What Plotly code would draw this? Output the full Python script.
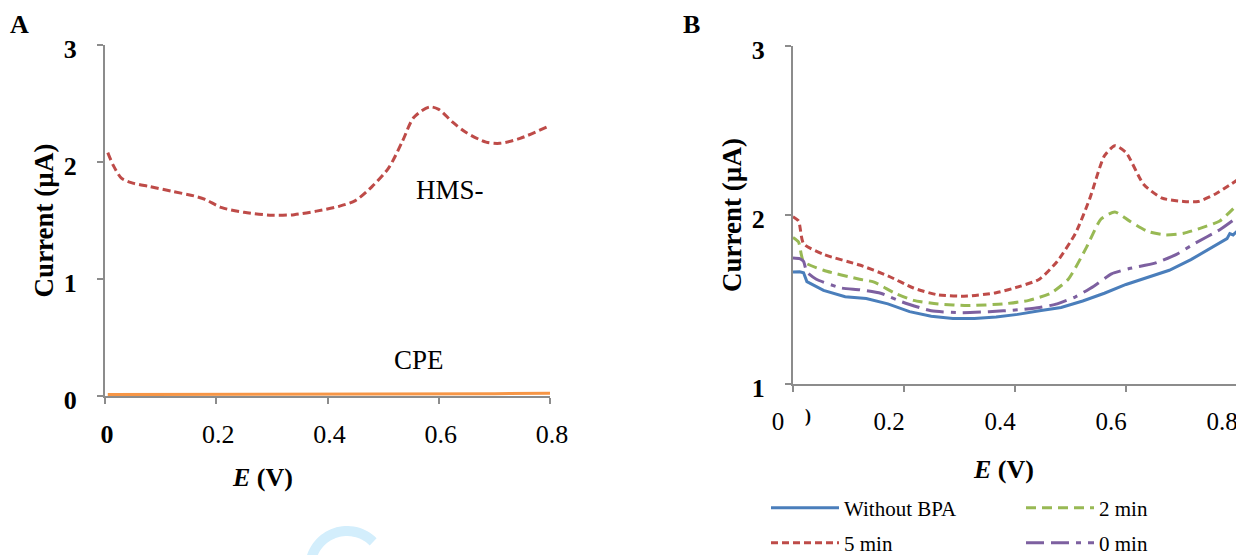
import numpy as np
import plotly.graph_objects as go

PAGE_W, PAGE_H = 1244, 555
OFF = 8  # default page body margin
FW, FH = PAGE_W - OFF, PAGE_H - OFF
FONT = "Liberation Serif"

# ---------------- Panel A data ----------------
a_hms_E = [0.005, 0.015, 0.03, 0.05, 0.08, 0.12, 0.16, 0.18, 0.21, 0.25, 0.30, 0.34, 0.38,
           0.42, 0.45, 0.48, 0.51, 0.535, 0.555, 0.583, 0.60, 0.625, 0.65, 0.685, 0.71, 0.745, 0.795]
a_hms_I = [2.08, 1.97, 1.86, 1.82, 1.79, 1.75, 1.71, 1.68, 1.61, 1.57, 1.545, 1.55, 1.58,
           1.62, 1.67, 1.79, 1.95, 2.18, 2.38, 2.47, 2.45, 2.34, 2.25, 2.17, 2.16, 2.20, 2.30]
a_cpe_E = [0.005, 0.1, 0.2, 0.3, 0.4, 0.5, 0.6, 0.7, 0.8]
a_cpe_I = [0.012, 0.013, 0.014, 0.012, 0.013, 0.014, 0.016, 0.020, 0.024]

# ---------------- Panel B data ----------------
b_red_E = [0.0, 0.01, 0.019, 0.055, 0.12, 0.171, 0.217, 0.262, 0.314, 0.366, 0.41, 0.444, 0.476,
           0.509, 0.535, 0.561, 0.58, 0.60, 0.632, 0.665, 0.704, 0.73, 0.762, 0.8]
b_red_I = [1.99, 1.965, 1.83, 1.767, 1.704, 1.64, 1.568, 1.527, 1.52, 1.54, 1.579, 1.62, 1.725,
           1.892, 2.10, 2.35, 2.41, 2.37, 2.18, 2.10, 2.08, 2.08, 2.126, 2.206]
b_green_E = [0.0, 0.01, 0.019, 0.055, 0.12, 0.145, 0.184, 0.217, 0.262, 0.314, 0.379, 0.425, 0.464,
             0.496, 0.529, 0.555, 0.58, 0.606, 0.639, 0.671, 0.704, 0.736, 0.769, 0.8]
b_green_I = [1.867, 1.84, 1.725, 1.673, 1.62, 1.604, 1.537, 1.495, 1.474, 1.464, 1.474, 1.495, 1.537,
             1.62, 1.81, 1.976, 2.018, 1.965, 1.903, 1.882, 1.892, 1.924, 1.965, 2.06]
b_purple_E = [0.0, 0.012, 0.019, 0.025, 0.042, 0.087, 0.12, 0.158, 0.197, 0.249, 0.301, 0.353, 0.405,
              0.444, 0.476, 0.509, 0.542, 0.574, 0.606, 0.652, 0.691, 0.723, 0.769, 0.8]
b_purple_I = [1.746, 1.742, 1.725, 1.662, 1.62, 1.568, 1.558, 1.537, 1.485, 1.433, 1.422, 1.428, 1.439,
              1.453, 1.474, 1.516, 1.579, 1.652, 1.683, 1.715, 1.767, 1.83, 1.913, 1.986]
b_blue_E = [0.0, 0.012, 0.019, 0.025, 0.055, 0.094, 0.132, 0.171, 0.21, 0.249, 0.288, 0.327, 0.366,
            0.405, 0.444, 0.483, 0.522, 0.561, 0.60, 0.639, 0.678, 0.717, 0.756, 0.782, 0.787, 0.793, 0.8]
b_blue_I = [1.662, 1.664, 1.658, 1.606, 1.554, 1.516, 1.506, 1.474, 1.428, 1.401, 1.387, 1.387, 1.397,
            1.412, 1.433, 1.453, 1.491, 1.537, 1.589, 1.631, 1.673, 1.736, 1.809, 1.86, 1.89, 1.882, 1.903]

x_ticks = [0, 0.2, 0.4, 0.6, 0.8]
a_x_ticktext = ["<b>0</b>", "0.2", "0.4", "0.6", "0.8"]
b_x_ticktext = ["0", "0.2", "0.4", "0.6", "0.8"]
a_y_ticks = [0, 1, 2, 3]
b_y_ticks = [1, 2, 3]

C_BLUE = "#4A7EBB"
C_RED = "#BE4B48"
C_GREEN = "#98B954"
C_PURPLE = "#7D60A0"
C_ORANGE = "#F79646"
AXIS_C = "#8C8C8C"


def px_x(p):
    return (p - OFF) / FW


def px_y(p):
    return 1 - (p - OFF) / FH


fig = go.Figure()

fig.add_trace(go.Scatter(x=a_cpe_E, y=a_cpe_I, mode="lines", name="CPE", showlegend=False,
                         line=dict(color=C_ORANGE, width=3), xaxis="x", yaxis="y"))
fig.add_trace(go.Scatter(x=a_hms_E, y=a_hms_I, mode="lines", name="HMS-", showlegend=False,
                         line=dict(color=C_RED, width=3, dash="8px,4px", shape="spline", smoothing=0.8),
                         xaxis="x", yaxis="y"))

fig.add_trace(go.Scatter(x=b_red_E, y=b_red_I, mode="lines", name="5 min", legend="legend2",
                         line=dict(color=C_RED, width=3, dash="7px,4px", shape="spline", smoothing=0.6),
                         xaxis="x2", yaxis="y2"))
fig.add_trace(go.Scatter(x=b_green_E, y=b_green_I, mode="lines", name="2 min", legend="legend",
                         line=dict(color=C_GREEN, width=3, dash="10px,6px", shape="spline", smoothing=0.6),
                         xaxis="x2", yaxis="y2"))
fig.add_trace(go.Scatter(x=b_purple_E, y=b_purple_I, mode="lines", name="0 min", legend="legend2",
                         line=dict(color=C_PURPLE, width=3, dash="18px,7px,18px,7px,5px,7px",
                                   shape="spline", smoothing=0.5),
                         xaxis="x2", yaxis="y2"))
fig.add_trace(go.Scatter(x=b_blue_E, y=b_blue_I, mode="lines", name="Without BPA", legend="legend",
                         line=dict(color=C_BLUE, width=3), xaxis="x2", yaxis="y2"))

fig.data[5].legendrank = 1
fig.data[3].legendrank = 2
fig.data[2].legendrank = 1
fig.data[4].legendrank = 2

common_axis = dict(showline=True, linecolor=AXIS_C, linewidth=2, ticks="outside", tickcolor=AXIS_C,
                   tickwidth=2, ticklen=6, showgrid=False, zeroline=False, automargin=False)

fig.update_layout(
    width=FW, height=FH, margin=dict(l=0, r=0, t=0, b=0, pad=0, autoexpand=False),
    paper_bgcolor="white", plot_bgcolor="white",
    font=dict(family=FONT, color="black"),
    xaxis=dict(domain=[px_x(105), px_x(550)], range=[0, 0.8], anchor="y",
               tickvals=x_ticks, ticktext=a_x_ticktext, tickfont=dict(size=26, family=FONT),
               ticklabelstandoff=8, ticklabelshift=2, **common_axis),
    yaxis=dict(domain=[px_y(396), px_y(45)], range=[0, 3], anchor="x",
               tickvals=a_y_ticks, tickfont=dict(size=26, family=FONT, weight="bold"),
               ticklabelstandoff=15, ticklabelshift=4,
               title=dict(text="Current (µA)", font=dict(size=27, family=FONT, weight="bold"), standoff=2),
               **common_axis),
    xaxis2=dict(domain=[px_x(793), px_x(1237)], range=[0, 0.8], anchor="y2",
                tickvals=x_ticks, ticktext=b_x_ticktext, tickfont=dict(size=25, family=FONT),
                ticklabelstandoff=8, ticklabelshift=-15, **common_axis),
    yaxis2=dict(domain=[px_y(384), px_y(46)], range=[1, 3], anchor="x2",
                tickvals=b_y_ticks, tickfont=dict(size=26, family=FONT, weight="bold"),
                ticklabelstandoff=15, ticklabelshift=4,
                title=dict(text="Current (µA)", font=dict(size=27, family=FONT, weight="bold"), standoff=2),
                **common_axis),
    legend=dict(orientation="h", x=px_x(766), y=px_y(508), xanchor="left", yanchor="middle",
                font=dict(size=21, family=FONT), entrywidth=172, itemwidth=68,
                bgcolor="rgba(0,0,0,0)", tracegroupgap=0, traceorder="normal"),
    legend2=dict(orientation="h", x=px_x(766), y=px_y(543), xanchor="left", yanchor="middle",
                 font=dict(size=21, family=FONT), entrywidth=172, itemwidth=68,
                 bgcolor="rgba(0,0,0,0)", tracegroupgap=0, traceorder="normal"),
)

ann = [
    dict(text="<b>A</b>", x=px_x(20), y=px_y(25), font=dict(size=26)),
    dict(text="<b>B</b>", x=px_x(691), y=px_y(25), font=dict(size=26)),
    dict(text="HMS-", x=px_x(450), y=px_y(190), font=dict(size=27)),
    dict(text="CPE", x=px_x(419), y=px_y(360), font=dict(size=27)),
    dict(text="<b><i>E</i> (V)</b>", x=px_x(262), y=px_y(477), font=dict(size=26)),
    dict(text="<b><i>E</i> (V)</b>", x=px_x(1003), y=px_y(469), font=dict(size=26)),
    dict(text="<b>)</b>", x=px_x(808), y=px_y(416), font=dict(size=18)),
]
for a in ann:
    a.update(xref="paper", yref="paper", showarrow=False, xanchor="center", yanchor="middle")
    a["font"] = dict(family=FONT, color="black", **a["font"])
fig.update_layout(annotations=ann)

# faint watermark ring at the bottom of the page
cx, cy, r = 347, 568, 37
th = np.linspace(np.deg2rad(200), np.deg2rad(45), 40)
pts = [(px_x(cx + r * np.cos(t)), px_y(cy - r * np.sin(t))) for t in th]
path = "M " + " L ".join(f"{x:.5f},{y:.5f}" for x, y in pts)
fig.add_shape(type="path", path=path, xref="paper", yref="paper",
              line=dict(color="#D3EEFC", width=10), layer="below")

fig.write_html("out.html")
